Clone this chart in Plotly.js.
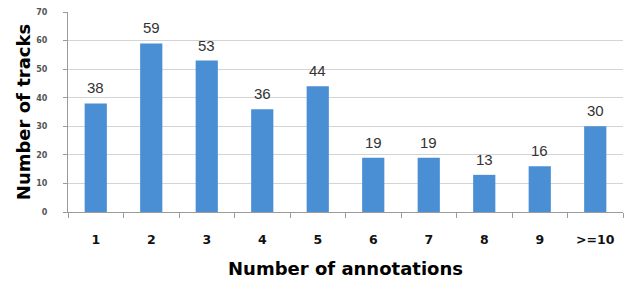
<!DOCTYPE html>
<html>
<head>
<meta charset="utf-8">
<script src="https://cdn.plot.ly/plotly-3.0.1.min.js"></script>
<style>html,body{margin:0;padding:0;background:#fff;}#chart{width:624px;height:285px;}</style>
</head>
<body>
<div id="chart"></div>
<script>
const categories = ["1","2","3","4","5","6","7","8","9",">=10"];
const tracks = [38,59,53,36,44,19,19,13,16,30];
const yTicks = [0,10,20,30,40,50,60,70];

const labels = categories.map((c, i) => ({
  x: i, y: tracks[i], text: String(tracks[i]),
  xref: 'x', yref: 'y', showarrow: false,
  yanchor: 'bottom', yshift: 5,
  font: {family: 'Liberation Sans, Arial, sans-serif', size: 15, color: '#333333'}
}));

Plotly.newPlot('chart', [{
  type: 'bar',
  x: categories,
  y: tracks,
  marker: {color: '#4a8fd4', line: {width: 0}},
  hoverinfo: 'none'
}], {
  width: 624, height: 285,
  margin: {l: 68, r: 1, t: 12, b: 73},
  paper_bgcolor: '#ffffff', plot_bgcolor: '#ffffff',
  bargap: 0.6,
  showlegend: false,
  annotations: labels,
  xaxis: {
    type: 'category',
    tickson: 'boundaries',
    ticks: 'outside', ticklen: 5, tickcolor: '#9a9a9a',
    showline: true, linecolor: '#9a9a9a', linewidth: 1,
    showgrid: false,
    ticklabelstandoff: 16,
    tickfont: {family: 'DejaVu Sans, sans-serif', size: 12.5, color: '#111111', weight: 'bold'},
    title: {text: '<b>Number of annotations</b>', font: {family: 'DejaVu Sans, sans-serif', size: 18, color: '#000000'}, standoff: 16}
  },
  yaxis: {
    range: [0, 70],
    tickvals: yTicks,
    ticks: 'outside', ticklen: 4, tickcolor: '#9a9a9a',
    showline: true, linecolor: '#9a9a9a', linewidth: 1,
    gridcolor: '#d4d4d4', gridwidth: 1,
    zeroline: false,
    ticklabelstandoff: 14,
    tickfont: {family: 'DejaVu Sans, sans-serif', size: 8, color: '#555555', weight: 'bold'},
    title: {text: '<b>Number of tracks</b>', font: {family: 'DejaVu Sans, sans-serif', size: 18, color: '#000000'}, standoff: 0}
  }
}, {displayModeBar: false, staticPlot: true});
</script>
</body>
</html>
